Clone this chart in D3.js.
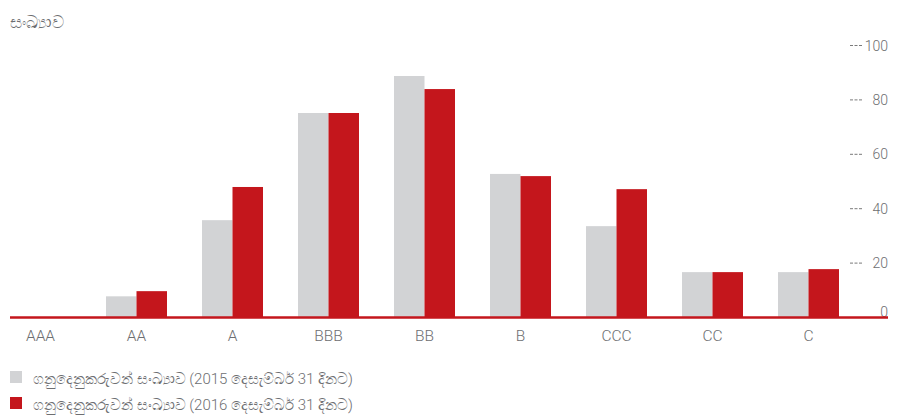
<!DOCTYPE html>
<html>
<head>
<meta charset="utf-8">
<script src="https://cdn.jsdelivr.net/npm/d3@7"></script>
<style>
  body { margin: 0; background: #fff; }
  text { font-family: Roboto, "Liberation Sans", sans-serif; font-weight: 300; fill: #6d6e71; }
</style>
</head>
<body>
<svg id="mainFrame" width="899" height="417"></svg>
<script>
const svg = d3.select('#mainFrame');

const categories = ['AAA', 'AA', 'A', 'BBB', 'BB', 'B', 'CCC', 'CC', 'C'];
const values2015 = [0, 7.6, 35.6, 75, 88.6, 52.6, 33.4, 16.5, 16.5];
const values2016 = [0, 9.5, 47.8, 75, 83.8, 51.8, 47, 16.5, 17.6];
const yTicks = [0, 20, 40, 60, 80, 100];
const seriesLabels = [
    'ගනුදෙනුකරුවන් සංඛ්‍යාව (2015 දෙසැම්බර් 31 දිනට)',
    'ගනුදෙනුකරුවන් සංඛ්‍යාව (2016 දෙසැම්බර් 31 දිනට)'
];
const yTitle = 'සංඛ්‍යාව';

const colors = ['#d2d3d5', '#c4161c'];

const xScale = d3.scaleBand()
    .domain(categories)
    .range([-7.5, 856.5]);

const xInner = d3.scaleBand()
    .domain([0, 1])
    .range([-30.5, 30.5]);

const yScale = d3.scaleLinear()
    .domain([0, 100])
    .range([317, 45]);

const data = categories.map((c, i) => ({ cat: c, vals: [values2015[i], values2016[i]] }));

// bars
const groups = svg.selectAll('g.cat').data(data)
    .enter().append('g')
        .attr('class', 'cat')
        .attr('transform', d => `translate(${xScale(d.cat) + xScale.bandwidth() / 2},0)`);

groups.selectAll('rect').data(d => d.vals)
    .enter().append('rect')
        .attr('x', (d, i) => xInner(i))
        .attr('width', xInner.bandwidth())
        .attr('y', d => yScale(d))
        .attr('height', d => yScale(0) - yScale(d))
        .attr('fill', (d, i) => colors[i]);

// y axis on the right
const yAxis = d3.axisLeft(yScale)
    .tickValues(yTicks)
    .tickSize(12);

const yAxisGroup = svg.append('g')
    .attr('transform', 'translate(862,0)')
    .call(yAxis);

yAxisGroup.select('.domain').remove();
yAxisGroup.selectAll('.tick line')
    .attr('stroke', '#7a7a7a')
    .attr('stroke-dasharray', '3,1.5')
    .attr('opacity', d => d === 0 ? 0 : 1);
yAxisGroup.selectAll('.tick text')
    .attr('x', 26)
    .attr('text-anchor', 'end')
    .attr('font-size', 14)
    .attr('dy', d => d === 0 ? '-0.05em' : '0.36em');

// x axis
const xAxis = d3.axisBottom(xScale)
    .tickSize(0)
    .tickPadding(13);

const xAxisGroup = svg.append('g')
    .attr('transform', `translate(0,${yScale(0)})`)
    .call(xAxis);

xAxisGroup.select('.domain').remove();
xAxisGroup.selectAll('.tick text')
    .attr('font-size', 15.5);

// baseline
svg.append('line')
    .attr('x1', 10)
    .attr('x2', 888)
    .attr('y1', yScale(0) + 0.5)
    .attr('y2', yScale(0) + 0.5)
    .attr('stroke', colors[1])
    .attr('stroke-width', 2.5);

// axis title
svg.append('text')
    .attr('x', 10)
    .attr('y', 28)
    .attr('font-size', 16.5)
    .text(yTitle);

// legend
const legend = svg.selectAll('g.legend').data(seriesLabels)
    .enter().append('g')
        .attr('class', 'legend')
        .attr('transform', (d, i) => `translate(10,${371 + i * 26})`);

legend.append('rect')
    .attr('width', 12)
    .attr('height', 12)
    .attr('fill', (d, i) => colors[i]);

legend.append('text')
    .attr('x', 23)
    .attr('y', 12.5)
    .attr('font-size', 15)
    .text(d => d);
</script>
</body>
</html>
